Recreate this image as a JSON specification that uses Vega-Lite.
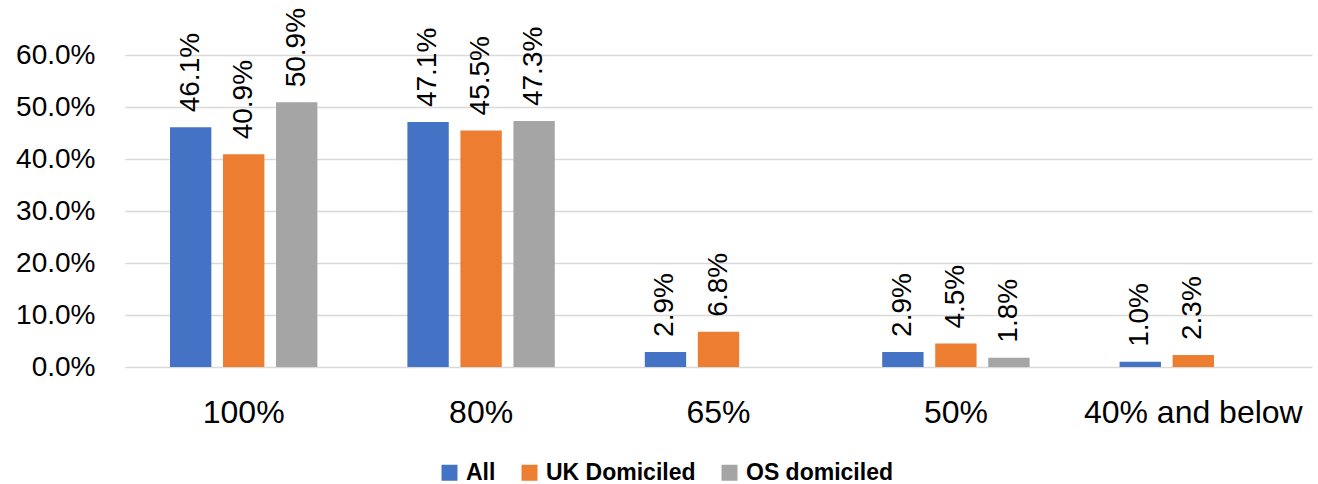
{
  "$schema": "https://vega.github.io/schema/vega-lite/v6.json",
  "width": 1187,
  "height": 312,
  "autosize": "none",
  "padding": {"left": 125, "top": 55, "right": 6, "bottom": 117},
  "background": "white",
  "config": {
    "view": {"stroke": null},
    "font": "Liberation Sans"
  },
  "data": {
    "values": [
      {"cat": "100%", "series": "All", "value": 0.461},
      {"cat": "100%", "series": "UK Domiciled", "value": 0.409},
      {"cat": "100%", "series": "OS domiciled", "value": 0.509},
      {"cat": "80%", "series": "All", "value": 0.471},
      {"cat": "80%", "series": "UK Domiciled", "value": 0.455},
      {"cat": "80%", "series": "OS domiciled", "value": 0.473},
      {"cat": "65%", "series": "All", "value": 0.029},
      {"cat": "65%", "series": "UK Domiciled", "value": 0.068},
      {"cat": "50%", "series": "All", "value": 0.029},
      {"cat": "50%", "series": "UK Domiciled", "value": 0.045},
      {"cat": "50%", "series": "OS domiciled", "value": 0.018},
      {"cat": "40% and below", "series": "All", "value": 0.010},
      {"cat": "40% and below", "series": "UK Domiciled", "value": 0.023}
    ]
  },
  "encoding": {
    "x": {
      "field": "cat",
      "type": "nominal",
      "sort": ["100%", "80%", "65%", "50%", "40% and below"],
      "scale": {"paddingInner": 0.33, "paddingOuter": 0.165},
      "axis": {
        "title": null,
        "labelAngle": 0,
        "labelFontSize": 32,
        "labelColor": "#000000",
        "labelPadding": 30,
        "labelLimit": 0,
        "labelOverlap": false,
        "ticks": false,
        "domain": false,
        "grid": false
      }
    },
    "xOffset": {
      "field": "series",
      "type": "nominal",
      "sort": ["All", "UK Domiciled", "OS domiciled"],
      "scale": {"paddingInner": 0.22, "paddingOuter": 0.11}
    },
    "y": {
      "field": "value",
      "type": "quantitative",
      "scale": {"domain": [0, 0.6], "nice": false},
      "axis": {
        "title": null,
        "format": ".1%",
        "values": [0, 0.1, 0.2, 0.3, 0.4, 0.5, 0.6],
        "labelFontSize": 28,
        "labelColor": "#000000",
        "labelPadding": 30,
        "ticks": false,
        "domain": false,
        "grid": true,
        "gridColor": "#D9D9D9",
        "gridWidth": 1.5
      }
    }
  },
  "layer": [
    {
      "mark": {"type": "bar"},
      "encoding": {
        "color": {
          "field": "series",
          "type": "nominal",
          "sort": ["All", "UK Domiciled", "OS domiciled"],
          "scale": {
            "domain": ["All", "UK Domiciled", "OS domiciled"],
            "range": ["#4472C4", "#ED7D31", "#A5A5A5"]
          },
          "legend": {
            "title": null,
            "orient": "none",
            "legendX": 313,
            "legendY": 406,
            "direction": "horizontal",
            "symbolType": "square",
            "symbolSize": 256,
            "symbolStrokeWidth": 0,
            "labelFontSize": 23,
            "labelFontWeight": "bold",
            "labelColor": "#000000",
            "labelOffset": 5,
            "columnPadding": 22,
            "padding": 0
          }
        }
      }
    },
    {
      "mark": {
        "type": "text",
        "angle": 270,
        "align": "left",
        "baseline": "middle",
        "dx": 15,
        "fontSize": 28,
        "color": "#000000"
      },
      "encoding": {
        "text": {"field": "value", "type": "quantitative", "format": ".1%"}
      }
    }
  ]
}
